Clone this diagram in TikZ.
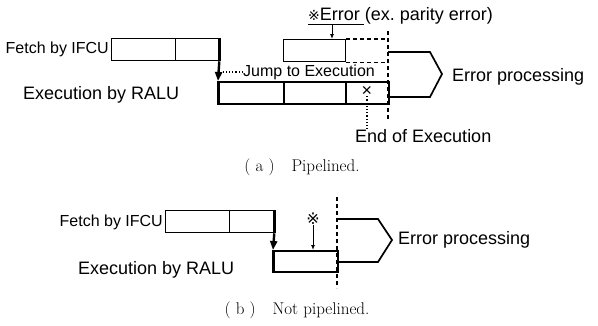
\documentclass[tikz,border=0pt]{standalone}
\usepackage{fontspec}
\setsansfont{Liberation Sans}
\newfontfamily\marksym{DejaVu Sans}
\usetikzlibrary{arrows.meta}

\tikzset{
  lbl/.style={font=\sffamily\fontsize{18}{21}\selectfont, inner sep=0pt},
  lblsm/.style={font=\sffamily\fontsize{16}{19}\selectfont, inner sep=0pt},
  capt/.style={font=\fontsize{17}{20}\selectfont, inner sep=0pt},
  seg/.style={draw, line width=1.3pt, minimum height=22pt, inner sep=0pt, anchor=north west},
  stage/.style={line width=2.4pt},
  guide/.style={line width=1.3pt, dash pattern=on 4pt off 3pt},
  drop/.style={stage, -{Triangle[length=9pt,width=7pt]}},
  pin/.style={line width=0.9pt, -{Latex[length=5pt,width=4pt]}},
}

\begin{document}
\begin{tikzpicture}[x=1pt, y=-1pt]
        \useasboundingbox (0,0) rectangle (598,325);

        % (a) Pipelined
        \node[lblsm, anchor=east] (fetchA) at (109,49) {Fetch by IFCU};
        \node[seg, minimum width=64pt] (fa1) at (111,38) {};
        \node[seg, minimum width=43pt] (fa2) at (175,38) {};
        \node[lbl, anchor=west] (execA) at (23,95) {Execution by RALU};

        % time of error
        \coordinate (cutAtop) at (388,31);
        \coordinate (cutAbot) at (388,121);
        \draw[guide] (cutAtop) -- (cutAbot);

        \node[seg, minimum width=62pt] (errbox) at (283,39) {};
        \draw[guide] (errbox.north east) -- (errbox.north east -| cutAtop);
        \draw[guide] (errbox.south east) -- (errbox.south east -| cutAtop);

        \node[seg, minimum width=65pt, line width=1.7pt] (ea1) at (218,81) {};
        \node[seg, minimum width=62pt, line width=1.7pt] (ea2) at (283,81) {};
        \node[seg, minimum width=43pt, line width=1.7pt] (ea3) at (345,81) {};
        \node[lbl] (xmark) at (367,91) {×};

        % fetch -> execution
        \draw[stage] (fa2.north east) -- (fa2.south east);
        \draw[drop] (fa2.south east) -- (ea1.north west);
        \draw[stage] (ea1.north west) -- (ea1.south west);

        \node[lblsm, anchor=west] (jumpA) at (243,72) {Jump to Execution};
        \coordinate (jumpend) at (223,72);
        \draw[dotted, line width=1.2pt] (jumpA.west) -- (jumpend);

        \node[lbl, anchor=west] (errtop) at (308,16)
            {{\marksym\fontsize{14}{16}\selectfont ※}Error (ex.\ parity error)};
        \coordinate (errline) at (364,24);
        \draw[line width=1pt] (308,24) -- (errline);
        \coordinate (errmark) at (332,24);
        \draw[pin] (errmark) -- (errmark |- errbox.north);

        \node[lbl, anchor=west] (endA) at (355,136) {End of Execution};
        \draw[dotted, line width=1.2pt] (xmark.south) -- (xmark.south |- endA.north);

        % error processing
        \draw[line width=1.7pt] (388,52) -- (430,52) -- (442,74) -- (430,97) -- (388,97);
        \node[lbl, anchor=west] (procA) at (452,77) {Error processing};

        \node[capt] (captA) at (302,167) {( a )\quad Pipelined.};

        % (b) Not pipelined
        \node[lblsm, anchor=east] (fetchB) at (163,222) {Fetch by IFCU};
        \node[seg, minimum width=64pt] (fb1) at (165,210) {};
        \node[seg, minimum width=44pt] (fb2) at (229,210) {};
        \node[lbl, anchor=west] (execB) at (78,270) {Execution by RALU};

        \coordinate (cutBtop) at (337,197);
        \coordinate (cutBbot) at (337,288);
        \draw[guide] (cutBtop) -- (cutBbot);

        \node[seg, minimum width=64pt, minimum height=21pt, line width=1.7pt] (eb1) at (273,250) {};
        \draw[stage] (fb2.north east) -- (fb2.south east);
        \draw[drop] (fb2.south east) -- (eb1.north west);
        \draw[stage] (eb1.north west) -- (eb1.south west);

        \node[lbl, font=\marksym\fontsize{16}{18}\selectfont] (markB) at (313,219) {※};
        \draw[pin] (markB.south) -- (markB.south |- eb1.north);

        \draw[line width=1.7pt] (337,219) -- (378,219) -- (392,240) -- (378,262) -- (337,262);
        \node[lbl, anchor=west] (procB) at (398,240) {Error processing};

        \node[capt] (captB) at (297,310) {( b )\quad Not pipelined.};
    \end{tikzpicture}
\end{document}
